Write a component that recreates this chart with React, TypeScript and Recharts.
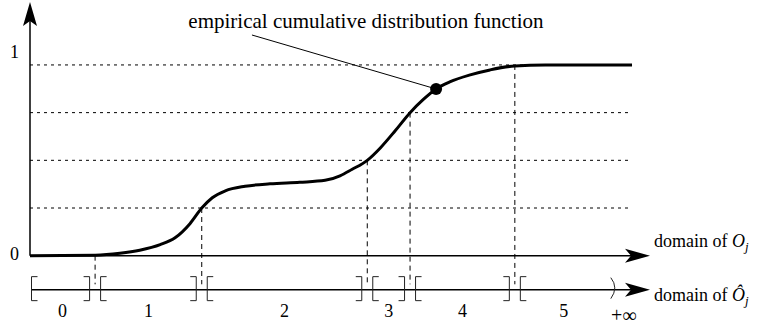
import React from "react";
import { LineChart, Line, XAxis, YAxis, ReferenceLine, ReferenceDot } from "recharts";

const FONT = "'Liberation Serif', 'Times New Roman', Times, serif";

// empirical CDF (x in arbitrary domain units 0..100)
const cdfX = [0, 10.5, 14.5, 17.7, 21.0, 23.4, 25.8, 27.7, 29.4, 31.5, 34.7, 38.7, 43.5, 47.6, 50.0, 51.9, 54.4, 56.5, 58.9, 61.3, 63.4, 65.5, 67.7, 71.0, 74.2, 78.2, 83.1, 97.1];
const cdfY = [0, 0.003, 0.013, 0.029, 0.058, 0.094, 0.168, 0.25, 0.304, 0.34, 0.364, 0.377, 0.385, 0.395, 0.419, 0.452, 0.5, 0.565, 0.655, 0.75, 0.818, 0.874, 0.911, 0.948, 0.974, 0.995, 1.0, 1.0];

const quantileLevels = [0.25, 0.5, 0.75, 1];
const boundaryX = [10.5, 27.7, 54.4, 61.3, 78.2];
const boundaryY = [0, 0.25, 0.5, 0.75, 1];
const binLabels = ["0", "1", "2", "3", "4", "5"];
const yTickValues = [0, 1];
const yTickLabels = ["0", "1"];
const openEnd = 94.0;
const markerX = 65.5;
const markerY = 0.874;
const calloutX = 35.8;
const calloutY = 1.157;

const X_MAX = 100;
const Y_MIN = -0.4;
const Y_MAX = 1.33;
const LOWER_AXIS = -0.178;
const DROP_END = -0.15;
const HLINE_END = 96.5;

const data = cdfX.map((x, i) => ({ x, y: cdfY[i] }));
const edges = [0, ...boundaryX, openEnd];
const binCenters = binLabels.map((_, i) => (edges[i] + edges[i + 1]) / 2);

const arrowRight = (p: any) => (
  <path d={`M${p.cx},${p.cy} L${p.cx - 25},${p.cy - 7} L${p.cx - 19},${p.cy} L${p.cx - 25},${p.cy + 7} Z`} fill="#000" />
);
const arrowUp = (p: any) => (
  <path d={`M${p.cx},${p.cy} L${p.cx - 7},${p.cy + 24} L${p.cx},${p.cy + 19} L${p.cx + 7},${p.cy + 24} Z`} fill="#000" />
);

const txt = (content: React.ReactNode, dx: number, dy: number, anchor = "middle", size = 18) => (p: any) => (
  <text x={p.cx + dx} y={p.cy + dy} textAnchor={anchor} fontSize={size} fill="#000" style={{ fontFamily: FONT }}>
    {content}
  </text>
);

const bracketPair = (p: any) => {
  const l = p.cx - 5.5;
  const r = p.cx + 5.5;
  const t = p.cy - 13;
  const b = p.cy + 11;
  return (
    <g fill="none" stroke="#222" strokeWidth={1}>
      <path d={`M${l - 6},${t} L${l},${t} L${l},${b} L${l - 6},${b}`} />
      <path d={`M${r + 6},${t} L${r},${t} L${r},${b} L${r + 6},${b}`} />
    </g>
  );
};
const openBracket = (p: any) => (
  <path d={`M${p.cx + 7.5},${p.cy - 13} L${p.cx + 1.5},${p.cy - 13} L${p.cx + 1.5},${p.cy + 11} L${p.cx + 7.5},${p.cy + 11}`} fill="none" stroke="#222" strokeWidth={1} />
);
const openParen = (p: any) => (
  <g>
    <path d={`M${p.cx - 2},${p.cy - 12} Q${p.cx + 6},${p.cy - 2} ${p.cx - 2},${p.cy + 9}`} fill="none" stroke="#222" strokeWidth={1} />
    <text x={p.cx + 11} y={p.cy + 32} textAnchor="middle" fontSize={20} fill="#000" style={{ fontFamily: FONT }}>+∞</text>
  </g>
);

export default function App() {
  return (
    <div style={{ position: "absolute", left: 0, top: 0, width: 773, height: 334, background: "#fff" }}>
      <LineChart width={773} height={334} data={data} margin={{ top: 2, right: 123, bottom: 2, left: 30 }}>
        <XAxis type="number" dataKey="x" domain={[0, X_MAX]} hide allowDataOverflow />
        <YAxis type="number" domain={[Y_MIN, Y_MAX]} hide allowDataOverflow />

        {quantileLevels.map((q) => (
          <ReferenceLine key={`h${q}`} segment={[{ x: 0, y: q }, { x: HLINE_END, y: q }]} stroke="#000" strokeWidth={1} strokeDasharray="3 4" ifOverflow="visible" />
        ))}
        {boundaryX.map((bx, i) => (
          <ReferenceLine key={`v${i}`} segment={[{ x: bx, y: boundaryY[i] }, { x: bx, y: DROP_END }]} stroke="#000" strokeWidth={1} strokeDasharray="5 4" ifOverflow="visible" />
        ))}

        {/* axes */}
        <ReferenceLine segment={[{ x: 0, y: 0 }, { x: 0, y: Y_MAX - 0.05 }]} stroke="#000" strokeWidth={1.5} ifOverflow="visible" />
        <ReferenceLine segment={[{ x: 0, y: 0 }, { x: X_MAX - 2, y: 0 }]} stroke="#000" strokeWidth={1.5} ifOverflow="visible" />
        <ReferenceLine segment={[{ x: 0.2, y: LOWER_AXIS }, { x: X_MAX - 2, y: LOWER_AXIS }]} stroke="#000" strokeWidth={1.5} ifOverflow="visible" />
        <ReferenceDot x={0} y={Y_MAX} shape={arrowUp} ifOverflow="visible" />
        <ReferenceDot x={X_MAX} y={0} shape={arrowRight} ifOverflow="visible" />
        <ReferenceDot x={X_MAX} y={LOWER_AXIS} shape={arrowRight} ifOverflow="visible" />

        {/* interval brackets */}
        <ReferenceDot x={0} y={LOWER_AXIS} shape={openBracket} ifOverflow="visible" />
        {boundaryX.map((bx, i) => (
          <ReferenceDot key={`b${i}`} x={bx} y={LOWER_AXIS} shape={bracketPair} ifOverflow="visible" />
        ))}
        <ReferenceDot x={openEnd} y={LOWER_AXIS} shape={openParen} ifOverflow="visible" />
        {binLabels.map((lab, i) => (
          <ReferenceDot key={`l${i}`} x={binCenters[i]} y={LOWER_AXIS} shape={txt(lab, 0, 27)} ifOverflow="visible" />
        ))}

        {/* y tick labels */}
        {yTickValues.map((v, i) => (
          <ReferenceDot key={`y${i}`} x={0} y={v} shape={txt(yTickLabels[i], -15.5, v === 0 ? 4.5 : -7)} ifOverflow="visible" />
        ))}

        {/* axis titles */}
        <ReferenceDot x={X_MAX} y={0} ifOverflow="visible" shape={txt(
          <>domain of <tspan fontStyle="italic">O</tspan><tspan fontStyle="italic" fontSize={13} dy={4}>j</tspan></>, 4, -9, "start")} />
        <ReferenceDot x={X_MAX} y={LOWER_AXIS} ifOverflow="visible" shape={txt(
          <>domain of <tspan fontStyle="italic">Ô</tspan><tspan fontStyle="italic" fontSize={13} dy={4}>j</tspan></>, 4, 11, "start")} />

        <Line type="monotone" dataKey="y" stroke="#000" strokeWidth={3} dot={false} isAnimationActive={false} />

        {/* callout */}
        <ReferenceLine segment={[{ x: calloutX, y: calloutY }, { x: markerX, y: markerY }]} stroke="#000" strokeWidth={1} ifOverflow="visible" />
        <ReferenceDot x={markerX} y={markerY} r={6} fill="#000" stroke="none" ifOverflow="visible" />
        <ReferenceDot x={calloutX} y={calloutY} ifOverflow="visible" shape={txt("empirical cumulative distribution function", 114, -7, "middle", 21)} />
      </LineChart>
    </div>
  );
}
